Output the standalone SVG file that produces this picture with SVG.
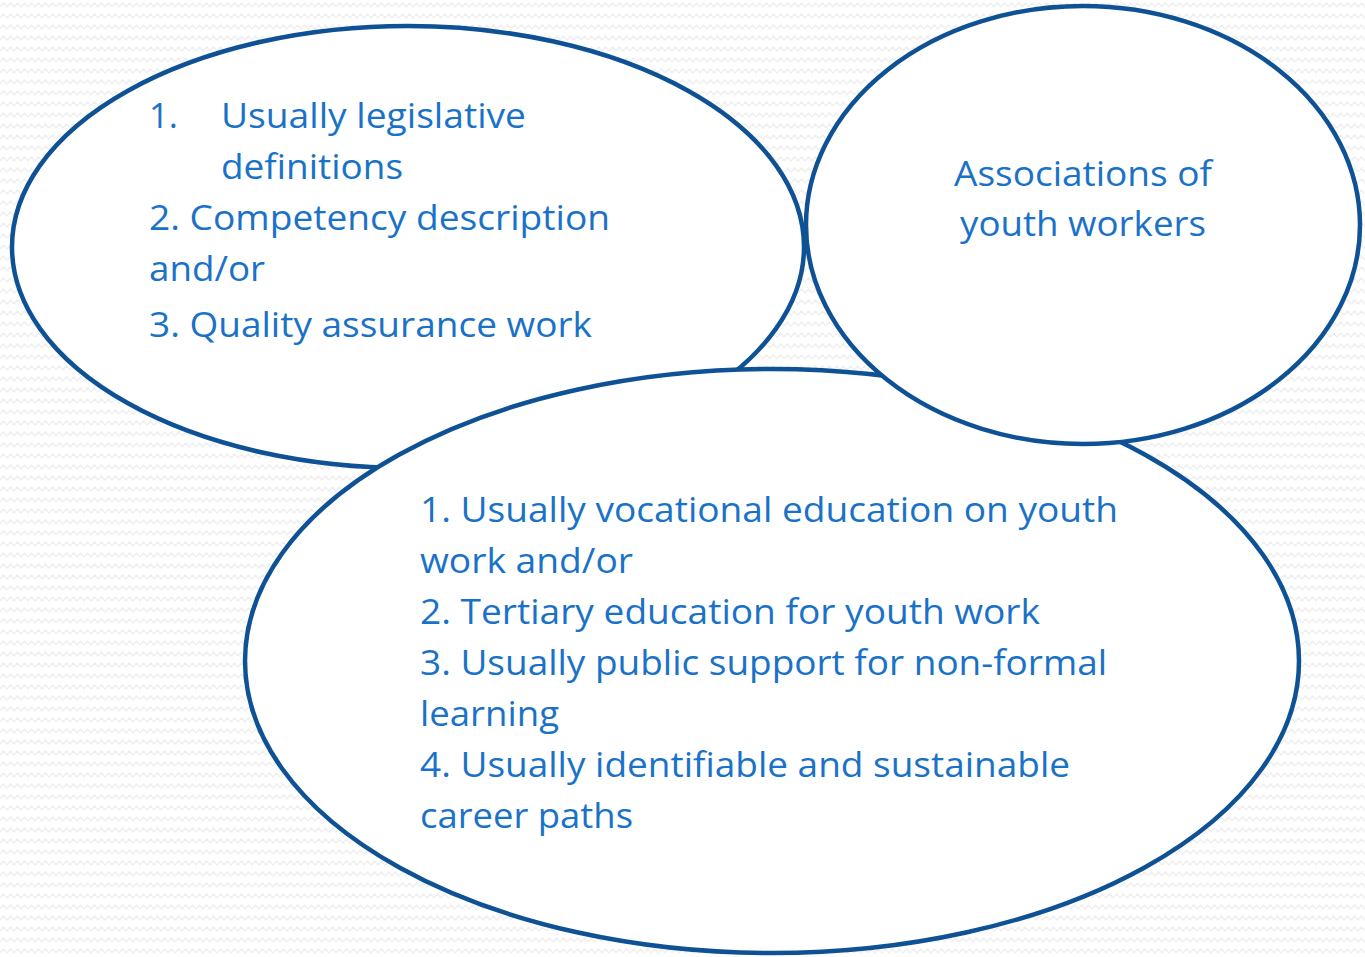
<svg xmlns="http://www.w3.org/2000/svg" width="1365" height="957" viewBox="0 0 1365 957">
  <defs>
    <pattern id="wave" width="14" height="11" patternUnits="userSpaceOnUse">
      <rect width="14" height="11" fill="#ffffff"/>
      <path d="M0,7 L3.5,3 L7,7 L10.5,3 L14,7" fill="none" stroke="#efefef" stroke-width="1.2"/>
    </pattern>
  </defs>
  <style>
    .bubble { fill: #ffffff; stroke: #0e5194; stroke-width: 4.5; }
    .t { font-family: "Open Sans", "Noto Sans", "Liberation Sans", sans-serif; font-size: 35px; fill: #1a72c8; }
  </style>
  <rect width="1365" height="957" fill="url(#wave)"/>
  <g id="connectors"></g>
  <g id="node-legislation">
    <ellipse class="bubble" cx="408" cy="247" rx="396" ry="221"/>
    <text class="t" x="149" y="128" textLength="29" lengthAdjust="spacingAndGlyphs">1.</text>
    <text class="t" x="221" y="128" textLength="305" lengthAdjust="spacingAndGlyphs">Usually legislative</text>
    <text class="t" x="221" y="179" textLength="182" lengthAdjust="spacingAndGlyphs">definitions</text>
    <text class="t" x="149" y="230" textLength="461" lengthAdjust="spacingAndGlyphs">2. Competency description</text>
    <text class="t" x="149" y="281" textLength="116" lengthAdjust="spacingAndGlyphs">and/or</text>
    <text class="t" x="149" y="337" textLength="443" lengthAdjust="spacingAndGlyphs">3. Quality assurance work</text>
  </g>
  <g id="node-education">
    <ellipse class="bubble" cx="772" cy="661" rx="527" ry="292"/>
    <text class="t" x="420" y="522" textLength="698" lengthAdjust="spacingAndGlyphs">1. Usually vocational education on youth</text>
    <text class="t" x="420" y="573" textLength="213" lengthAdjust="spacingAndGlyphs">work and/or</text>
    <text class="t" x="420" y="624" textLength="620" lengthAdjust="spacingAndGlyphs">2. Tertiary education for youth work</text>
    <text class="t" x="420" y="675" textLength="687" lengthAdjust="spacingAndGlyphs">3. Usually public support for non-formal</text>
    <text class="t" x="420" y="726" textLength="139" lengthAdjust="spacingAndGlyphs">learning</text>
    <text class="t" x="420" y="777" textLength="650" lengthAdjust="spacingAndGlyphs">4. Usually identifiable and sustainable</text>
    <text class="t" x="420" y="828" textLength="213" lengthAdjust="spacingAndGlyphs">career paths</text>
  </g>
  <g id="node-associations">
    <ellipse class="bubble" cx="1083" cy="225" rx="277" ry="219"/>
    <text class="t" x="954" y="186" textLength="258" lengthAdjust="spacingAndGlyphs">Associations of</text>
    <text class="t" x="960" y="236" textLength="246" lengthAdjust="spacingAndGlyphs">youth workers</text>
  </g>
</svg>
